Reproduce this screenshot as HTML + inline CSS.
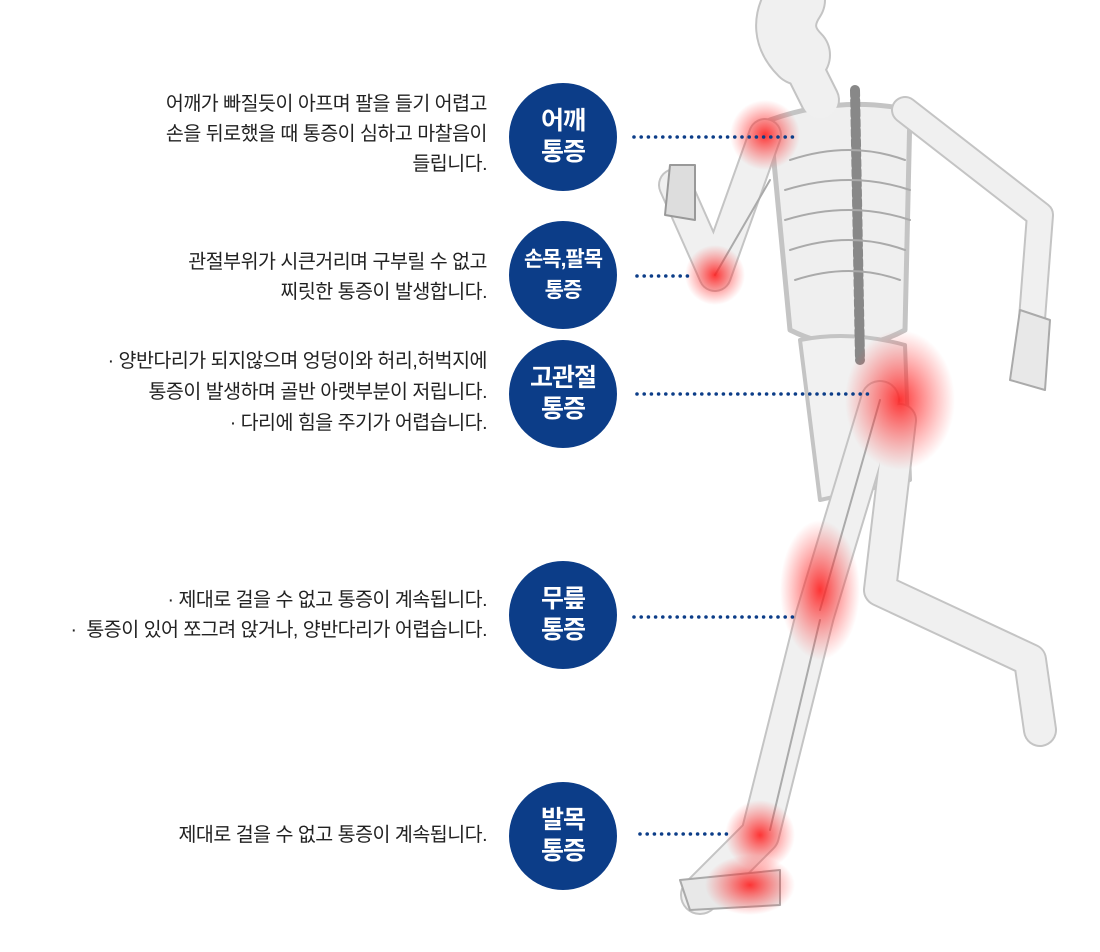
<!DOCTYPE html>
<html><head><meta charset="utf-8"><style>
html,body{margin:0;padding:0;background:#fff;}
#w{position:relative;width:1100px;height:952px;overflow:hidden;font-family:"Liberation Sans","Noto Sans CJK KR",sans-serif;}
.t{position:absolute;right:613px;text-align:right;font-size:19.5px;line-height:30px;color:#222;letter-spacing:-0.5px;white-space:nowrap;}
.c{position:absolute;width:108px;height:108px;border-radius:50%;background:#0c3d88;color:#fff;font-weight:bold;font-size:25px;line-height:31px;display:flex;align-items:center;justify-content:center;text-align:center;letter-spacing:-1px;}
svg{position:absolute;left:0;top:0;}
</style></head><body><div id="w">
<svg width="1100" height="952" viewBox="0 0 1100 952">
<defs>
<radialGradient id="r"><stop offset="0" stop-color="#ff2020" stop-opacity=".9"/><stop offset=".5" stop-color="#ff3030" stop-opacity=".45"/><stop offset="1" stop-color="#ff4040" stop-opacity="0"/></radialGradient>
</defs>
<g fill="none" stroke-linecap="round" stroke-linejoin="round">
<g stroke="#c4c4c4">
<path d="M795 0 Q775 30 800 55" stroke-width="62"/>
<path d="M800 60 L820 100" stroke-width="40"/>
<path d="M770 120 Q840 95 910 110 L905 330 Q850 360 790 330 Z" stroke-width="5" fill="#efefef"/>
<path d="M800 340 Q850 330 905 345 L910 480 L820 500 Z" stroke-width="4" fill="#f1f1f1"/>
<path d="M765 135 L715 275 L675 185" stroke-width="34"/>
<path d="M905 110 L1040 215 L1030 345" stroke-width="28"/>
<path d="M880 400 L815 615 L760 835 L700 895" stroke-width="40"/>
<path d="M900 420 L880 590 L1030 660 L1040 730" stroke-width="34"/>
</g>
<g stroke="#f0f0f0">
<path d="M795 0 Q775 30 800 55" stroke-width="58"/>
<path d="M800 60 L820 100" stroke-width="36"/>
<path d="M765 135 L715 275 L675 185" stroke-width="30"/>
<path d="M905 110 L1040 215 L1030 345" stroke-width="24"/>
<path d="M880 400 L815 615 L760 835 L700 895" stroke-width="36"/>
<path d="M900 420 L880 590 L1030 660 L1040 730" stroke-width="30"/>
</g>
<path d="M855 90 L860 360" stroke="#888" stroke-width="10" stroke-dasharray="6 4"/>
<g stroke="#aaa" stroke-width="2">
<path d="M790 160 Q850 140 905 160"/><path d="M785 190 Q850 170 910 190"/><path d="M785 220 Q850 200 910 220"/><path d="M790 250 Q850 230 905 250"/><path d="M795 280 Q850 262 900 280"/>
<path d="M715 275 L770 180 M880 400 L820 610 M820 620 L770 830"/>
</g>
<path d="M670 165 L695 165 L695 220 L665 215 Z" fill="#ddd" stroke="#999" stroke-width="2"/>
<path d="M1020 310 L1050 320 L1045 390 L1010 380 Z" fill="#e8e8e8" stroke="#aaa" stroke-width="2"/>
<path d="M680 880 L780 870 L780 905 L690 910 Z" fill="#e8e8e8" stroke="#aaa" stroke-width="2"/>
</g>
<circle cx="765" cy="135" r="35" fill="url(#r)"/>
<circle cx="715" cy="275" r="30" fill="url(#r)"/>
<ellipse cx="900" cy="400" rx="55" ry="70" fill="url(#r)"/>
<ellipse cx="820" cy="590" rx="40" ry="70" fill="url(#r)"/>
<circle cx="760" cy="835" r="35" fill="url(#r)"/>
<ellipse cx="750" cy="885" rx="45" ry="30" fill="url(#r)"/>
<g stroke="#0c3d88" stroke-width="3.6" stroke-linecap="round" stroke-dasharray="0 7.2">
<line x1="634" y1="137" x2="795" y2="137"/>
<line x1="637" y1="276" x2="690" y2="276"/>
<line x1="637" y1="394" x2="872" y2="394"/>
<line x1="634" y1="617" x2="795" y2="617"/>
<line x1="640" y1="834" x2="730" y2="834"/>
</g>
</svg>
<div class="t" style="top:89px">어깨가 빠질듯이 아프며 팔을 들기 어렵고<br>손을 뒤로했을 때 통증이 심하고 마찰음이<br>들립니다.</div>
<div class="t" style="top:247px">관절부위가 시큰거리며 구부릴 수 없고<br>찌릿한 통증이 발생합니다.</div>
<div class="t" style="top:346px;line-height:31px">· 양반다리가 되지않으며 엉덩이와 허리,허벅지에<br>통증이 발생하며 골반 아랫부분이 저립니다.<br>· 다리에 힘을 주기가 어렵습니다.</div>
<div class="t" style="top:585px">· 제대로 걸을 수 없고 통증이 계속됩니다.<br>·&nbsp; 통증이 있어 쪼그려 앉거나, 양반다리가 어렵습니다.</div>
<div class="t" style="top:820px">제대로 걸을 수 없고 통증이 계속됩니다.</div>
<div class="c" style="left:509px;top:83px">어깨<br>통증</div>
<div class="c" style="left:509px;top:221px;font-size:21px">손목,팔목<br>통증</div>
<div class="c" style="left:509px;top:340px">고관절<br>통증</div>
<div class="c" style="left:509px;top:561px">무릎<br>통증</div>
<div class="c" style="left:509px;top:782px">발목<br>통증</div>
</div></body></html>
